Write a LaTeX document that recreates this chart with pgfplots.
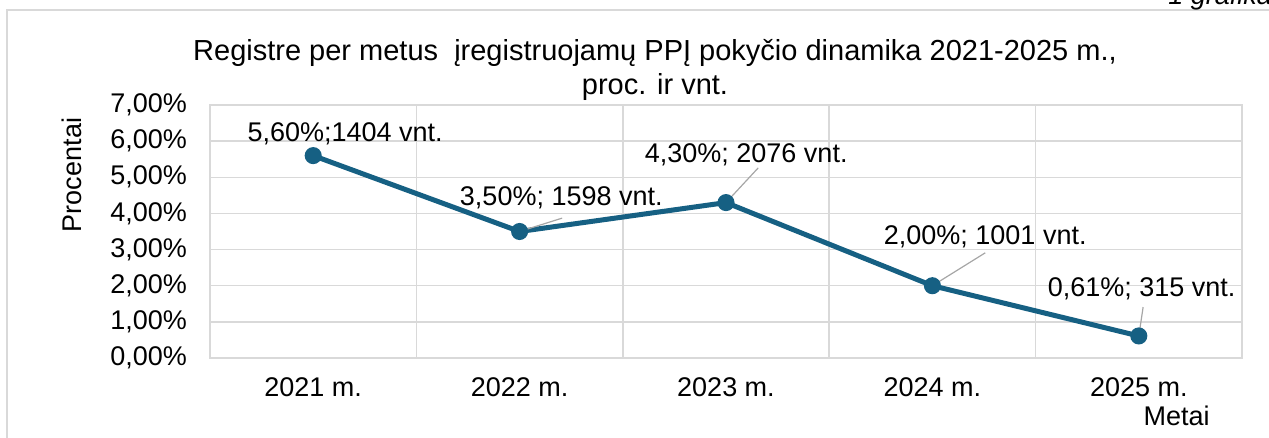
\documentclass[border=0pt]{standalone}
\usepackage{fontspec}
\setmainfont{Liberation Sans}
\usepackage{pgfplots}
\pgfplotsset{compat=1.18}

\definecolor{linec}{RGB}{22,96,131}
\definecolor{gridc}{RGB}{217,217,217}
\definecolor{leadc}{RGB}{166,166,166}

\newcommand{\fs}{\fontsize{13.5bp}{16bp}\selectfont}
\newcommand{\ft}{\fontsize{14.5bp}{17bp}\selectfont}

\begin{document}
\begin{tikzpicture}
% page = 1269 x 438 px at 0.5bp per px
\useasboundingbox (0,0) rectangle (634.5bp,219bp);
\draw[gridc, line width=0.75bp] (3.5bp,-5bp) -- (3.5bp,214bp) -- (640bp,214bp);
\node[anchor=base west, font=\fs\itshape, inner sep=0] at (584bp,216.5bp) {1 grafikas};

\node[anchor=base, font=\ft, inner sep=0] at (327.5bp,188.5bp)
  {Registre per metus \ įregistruojamų PPĮ pokyčio dinamika 2021-2025 m.,};
\node[anchor=base, font=\ft, inner sep=0] at (327.5bp,171.5bp) {proc. ir vnt.};
\node[rotate=90, font=\fs] at (36bp,131.5bp) {Procentai};
\node[anchor=base east, font=\fs, inner sep=0] at (605bp,6.5bp) {Metai};

\begin{axis}[
  at={(105bp,40bp)}, anchor=south west,
  scale only axis, width=516bp, height=126.5bp,
  xmin=-0.5, xmax=4.5, ymin=0, ymax=7,
  xtick={0,1,2,3,4},
  xticklabels={2021 m., 2022 m., 2023 m., 2024 m., 2025 m.},
  minor xtick={-0.5,0.5,1.5,2.5,3.5,4.5},
  ytick={0,1,...,7},
  major tick length=0, minor tick length=0,
  xmajorgrids=false, xminorgrids=true, ymajorgrids=true,
  grid style={gridc, line width=0.75bp},
  minor grid style={gridc, line width=0.75bp},
  axis line style={gridc, line width=0.75bp},
  tick label style={font=\fs},
  /pgf/number format/assume math mode=true,
  yticklabel={\pgfmathprintnumber[fixed, fixed zerofill, precision=2, use comma]{\tick}\%},
  yticklabel style={xshift=-8bp},
  xticklabel style={yshift=-6.5bp},
  clip=false,
]
\addplot[linec, line width=2.5bp, mark=*, mark size=3bp, mark options={fill=linec, draw=linec}]
  coordinates {(0,5.60) (1,3.50) (2,4.30) (3,2.00) (4,0.61)};

\draw[leadc, line width=0.6bp] (axis cs:1.206,3.87) -- (axis cs:1.0,3.5);
\draw[leadc, line width=0.6bp] (axis cs:2.156,5.26) -- (axis cs:2.0,4.30);
\draw[leadc, line width=0.6bp] (axis cs:3.256,2.91) -- (axis cs:3.0,2.0);
\draw[leadc, line width=0.6bp] (axis cs:4.021,1.41) -- (axis cs:4.0,0.61);

\node[anchor=base, font=\fs, inner sep=0] at (axis cs:0.155,5.98) {5,60\%;1404 vnt.};
\node[anchor=base, font=\fs, inner sep=0] at (axis cs:1.202,4.23) {3,50\%; 1598 vnt.};
\node[anchor=base, font=\fs, inner sep=0] at (axis cs:2.098,5.40) {4,30\%; 2076 vnt.};
\node[anchor=base, font=\fs, inner sep=0] at (axis cs:3.256,3.13) {2,00\%; 1001 vnt.};
\node[anchor=base, font=\fs, inner sep=0] at (axis cs:4.014,1.69) {0,61\%; 315 vnt.};
\end{axis}
\end{tikzpicture}
\end{document}
